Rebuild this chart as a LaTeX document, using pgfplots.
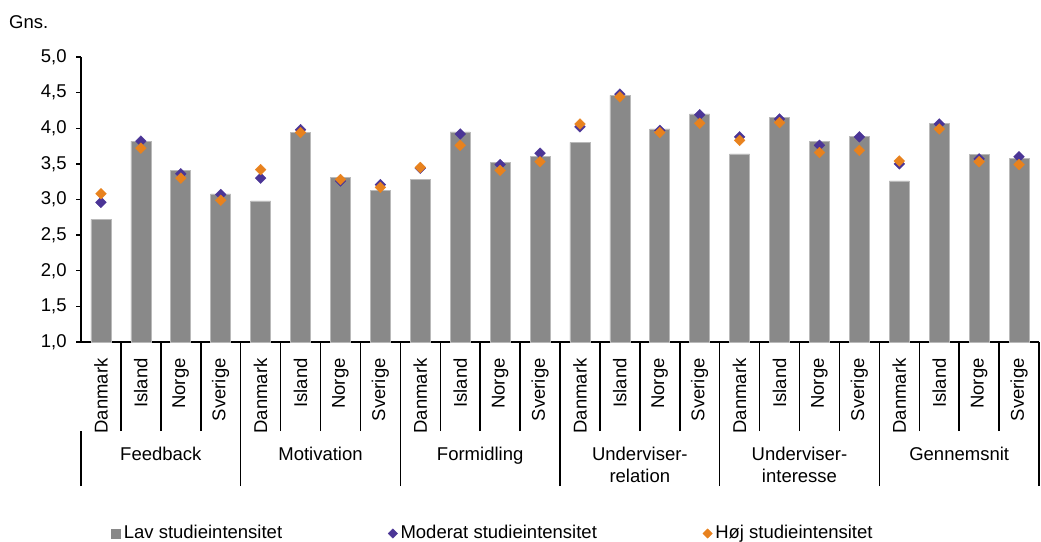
\documentclass[border=0pt]{standalone}
\usepackage{pgfplots}
\pgfplotsset{compat=1.18}
\usepackage{pgfplotstable}
\usepackage{fontspec}
\setmainfont{Liberation Sans}
\definecolor{bargray}{RGB}{137,137,137}
\definecolor{baredge}{RGB}{185,185,185}
\definecolor{purp}{RGB}{75,53,150}
\definecolor{orng}{RGB}{232,130,30}

\pgfplotstableread{
x lav mod hoj
0 2.72 2.96 3.08
1 3.82 3.82 3.72
2 3.41 3.36 3.30
3 3.08 3.07 2.99
4 2.98 3.30 3.42
5 3.94 3.98 3.94
6 3.31 3.26 3.28
7 3.13 3.21 3.17
8 3.28 3.44 3.45
9 3.95 3.92 3.76
10 3.52 3.49 3.41
11 3.61 3.65 3.53
12 3.80 4.02 4.06
13 4.46 4.48 4.44
14 3.99 3.97 3.94
15 4.20 4.19 4.07
16 3.64 3.88 3.83
17 4.15 4.13 4.08
18 3.81 3.76 3.66
19 3.89 3.88 3.69
20 3.26 3.50 3.54
21 4.07 4.06 3.99
22 3.63 3.57 3.53
23 3.58 3.60 3.49
}\data

\newcommand\fs{\fontsize{18.5}{22}\selectfont}
\begin{document}
\fs
\begin{tikzpicture}
\path[use as bounding box] (0pt,0pt) rectangle (1041pt,541pt);
\node[anchor=base west, inner sep=0pt] at (9pt,512pt) {Gns.};
% separators between categories and groups
\begin{axis}[
  at={(81pt,199pt)}, anchor=south west,
  scale only axis, width=958pt, height=285pt,
  xmin=-0.5, xmax=23.5, ymin=1, ymax=5,
  axis lines*=left, hide y axis,
  axis line style={draw=none},
  tick align=outside,
  major tick length=144pt,
  minor tick length=89pt,
  xtick={3.5,7.5,11.5,15.5,19.5,23.5},
  xticklabels={},
  minor xtick={0.5,1.5,2.5,4.5,5.5,6.5,8.5,9.5,10.5,12.5,13.5,14.5,16.5,17.5,18.5,20.5,21.5,22.5},
  x tick style={line width=1.5pt, black},
  extra x ticks={-0.5},
  extra x tick labels={},
  extra x tick style={dash pattern=on 55pt off 300pt},
]
\end{axis}
\begin{axis}[
  at={(81pt,199pt)}, anchor=south west,
  scale only axis, width=958pt, height=285pt,
  xmin=-0.5, xmax=23.5, ymin=1, ymax=5,
  axis lines*=left,
  axis line style={line width=1.6pt, black},
  tick align=outside,
  major tick length=5pt,
  ytick={1,1.5,2,2.5,3,3.5,4,4.5,5},
  y tick style={line width=1.4pt, black},
  /pgf/number format/use comma,
  /pgf/number format/fixed,
  /pgf/number format/fixed zerofill,
  /pgf/number format/precision=1,
  /pgf/number format/assume math mode=true,
  yticklabel style={font=\fs, xshift=-3pt},
  xtick={0,...,23},
  xticklabels={Danmark,Island,Norge,Sverige,Danmark,Island,Norge,Sverige,Danmark,Island,Norge,Sverige,Danmark,Island,Norge,Sverige,Danmark,Island,Norge,Sverige,Danmark,Island,Norge,Sverige},
  xticklabel style={rotate=90, anchor=east, font=\fs, xshift=-5pt},
  x tick style={draw=none},
  legend columns=3,
  legend style={at={(rel axis cs:0.031,-0.672)}, anchor=west, draw=none, fill=none, inner sep=0pt,
    nodes={inner xsep=3pt, inner ysep=0pt, font=\fs},
    /tikz/every even column/.append style={column sep=103pt},
    /tikz/every odd column/.append style={column sep=0pt}},
  legend cell align=left,
]
\addplot[ybar, bar width=20pt, fill=bargray, draw=baredge, line width=0.6pt,
  legend image code/.code={\fill[bargray] (0pt,-4.7pt) rectangle (9.3pt,4.7pt);}]
  table[x=x, y=lav]{\data};
\addlegendentry{Lav studieintensitet}
\addplot[only marks, mark=square*, mark size=3.8pt, mark options={rotate=45, fill=purp, draw=purp},
  legend image code/.code={\draw plot[only marks, mark=square*, mark size=3.3pt, mark options={rotate=45, fill=purp, draw=purp}] coordinates {(4.7pt,0pt)};}]
  table[x=x, y=mod]{\data};
\addlegendentry{Moderat studieintensitet}
\addplot[only marks, mark=square*, mark size=3.8pt, mark options={rotate=45, fill=orng, draw=orng},
  legend image code/.code={\draw plot[only marks, mark=square*, mark size=3.3pt, mark options={rotate=45, fill=orng, draw=orng}] coordinates {(4.7pt,0pt)};}]
  table[x=x, y=hoj]{\data};
\addlegendentry{Høj studieintensitet}
\coordinate (g1) at (axis cs:1.5,1);
\coordinate (g2) at (axis cs:5.5,1);
\coordinate (g3) at (axis cs:9.5,1);
\coordinate (g4) at (axis cs:13.5,1);
\coordinate (g5) at (axis cs:17.5,1);
\coordinate (g6) at (axis cs:21.5,1);
\end{axis}
\foreach \g/\t in {g1/Feedback, g2/Motivation, g3/Formidling, g4/{Underviser-\\relation}, g5/{Underviser-\\interesse}, g6/Gennemsnit}{
  \node[anchor=north, align=center, inner sep=0pt, yshift=-104.5pt] at (\g) {\t};
}
\end{tikzpicture}
\end{document}
